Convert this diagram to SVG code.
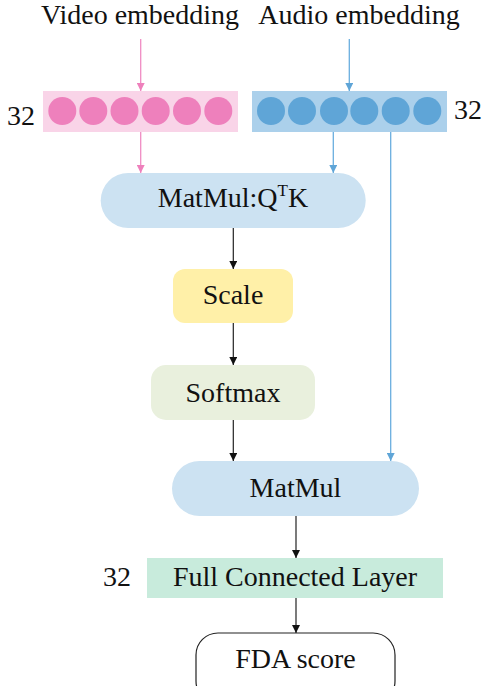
<svg xmlns="http://www.w3.org/2000/svg" width="482" height="686" viewBox="0 0 482 686">
<style>
text{font-family:'Liberation Serif','Times New Roman',Times,'DejaVu Serif',serif;font-size:28px;fill:#111}
.mid{text-anchor:middle}
.pk{stroke:#F08CC4;stroke-width:1.3;fill:none}
.bl{stroke:#6AAEDF;stroke-width:1.3;fill:none}
.bk{stroke:#222;stroke-width:1.2;fill:none}
.pc{fill:#EE80BC}
.bc{fill:#5FA5D7}
</style>
<defs>
<marker id="aP" viewBox="0 0 10 10" refX="10" refY="5" markerWidth="8" markerHeight="8" markerUnits="userSpaceOnUse" orient="auto"><path d="M0,0L10,5L0,10Z" fill="#EE80BC"/></marker>
<marker id="aB" viewBox="0 0 10 10" refX="10" refY="5" markerWidth="8" markerHeight="8" markerUnits="userSpaceOnUse" orient="auto"><path d="M0,0L10,5L0,10Z" fill="#5FA5D7"/></marker>
<marker id="aK" viewBox="0 0 10 10" refX="10" refY="5" markerWidth="8" markerHeight="8" markerUnits="userSpaceOnUse" orient="auto"><path d="M0,0L10,5L0,10Z" fill="#111"/></marker>
</defs>
<rect width="482" height="686" fill="#fff"/>

<g id="labels" font-family="Liberation Serif, serif">
<text x="140" y="24" class="mid">Video embedding</text>
<text x="359" y="24" class="mid">Audio embedding</text>
</g>

<g id="connectors">
<line x1="140.7" y1="39" x2="140.7" y2="91" class="pk" marker-end="url(#aP)"/>
<line x1="349.3" y1="39" x2="349.3" y2="91" class="bl" marker-end="url(#aB)"/>
<line x1="140.7" y1="132" x2="140.7" y2="173" class="pk" marker-end="url(#aP)"/>
<line x1="333.3" y1="132" x2="333.3" y2="173" class="bl" marker-end="url(#aB)"/>
<line x1="390.7" y1="132" x2="390.7" y2="461" class="bl" marker-end="url(#aB)"/>
<line x1="233.3" y1="228" x2="233.3" y2="269" class="bk" marker-end="url(#aK)"/>
<line x1="233.3" y1="323" x2="233.3" y2="365" class="bk" marker-end="url(#aK)"/>
<line x1="233.3" y1="420" x2="233.3" y2="461" class="bk" marker-end="url(#aK)"/>
<line x1="296" y1="516" x2="296" y2="558" class="bk" marker-end="url(#aK)"/>
<line x1="296" y1="598" x2="296" y2="633" class="bk" marker-end="url(#aK)"/>
</g>

<g id="video-vector">
<rect x="43" y="91" width="195" height="41" fill="#F9D4E8"/>
<circle cx="62.3" cy="111" r="14" class="pc"/>
<circle cx="93.3" cy="111" r="14" class="pc"/>
<circle cx="124.5" cy="111" r="14" class="pc"/>
<circle cx="155.7" cy="111" r="14" class="pc"/>
<circle cx="187" cy="111" r="14" class="pc"/>
<circle cx="218.3" cy="111" r="14" class="pc"/>
<text x="7" y="125">32</text>
</g>

<g id="audio-vector">
<rect x="252" y="91" width="195" height="41" fill="#ABD0EB"/>
<circle cx="271" cy="111" r="14" class="bc"/>
<circle cx="302" cy="111" r="14" class="bc"/>
<circle cx="334" cy="111" r="14" class="bc"/>
<circle cx="364.3" cy="111" r="14" class="bc"/>
<circle cx="395.7" cy="111" r="14" class="bc"/>
<circle cx="427.3" cy="111" r="14" class="bc"/>
<text x="454" y="119">32</text>
</g>

<g id="matmul-qtk">
<rect x="100.7" y="173" width="265" height="55" rx="27.5" fill="#CCE2F2"/>
<text x="233" y="207" class="mid">MatMul:Q<tspan font-size="17" dy="-11">T</tspan><tspan dy="11">K</tspan></text>
</g>

<g id="scale">
<rect x="173" y="269" width="120" height="54" rx="12" fill="#FFF0A8"/>
<text x="233" y="304" class="mid">Scale</text>
</g>

<g id="softmax">
<rect x="151" y="365" width="164" height="55" rx="15" fill="#E9F0DD"/>
<text x="233" y="402" class="mid">Softmax</text>
</g>

<g id="matmul">
<rect x="172" y="461" width="247" height="55" rx="27.5" fill="#CCE2F2"/>
<text x="295.5" y="497" class="mid">MatMul</text>
</g>

<g id="fcl">
<rect x="147" y="558" width="296" height="40" fill="#C8EBDC"/>
<text x="295" y="586" class="mid">Full Connected Layer</text>
<text x="103" y="586">32</text>
</g>

<g id="fda">
<rect x="196" y="633" width="199" height="70" rx="22" fill="#fff" stroke="#222" stroke-width="1.2"/>
<text x="295.5" y="668" class="mid">FDA score</text>
</g>
</svg>
